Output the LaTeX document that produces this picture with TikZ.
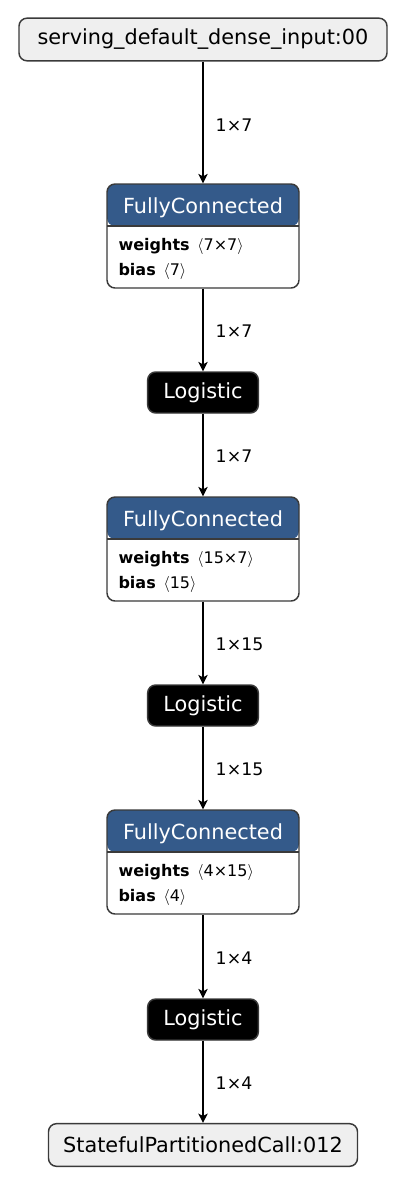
\documentclass[tikz,border=0pt]{standalone}
\usepackage{fontspec}
\setmainfont{DejaVu Sans}
\usetikzlibrary{arrows.meta}
\definecolor{fcblue}{HTML}{345A8A}
\definecolor{ioback}{HTML}{EFEFEF}
\definecolor{boxline}{HTML}{3A3A3A}
\def\lw{1.1pt}
\def\headh{31.5pt}

\begin{document}
\begin{tikzpicture}[x=0.75pt, y=0.75pt,
  io/.style={draw=boxline, line width=\lw, fill=ioback, rounded corners=6pt,
    minimum height=32pt, font=\fontsize{15.6pt}{18pt}\selectfont},
  fcbox/.style={draw=boxline, line width=\lw, fill=white, rounded corners=6pt,
    minimum width=144pt, minimum height=78pt, inner sep=0pt,
    path picture={
      \fill[fcblue] (path picture bounding box.north west) rectangle ([yshift=-\headh]path picture bounding box.north east);
      \draw[boxline, line width=\lw] ([yshift=-\headh]path picture bounding box.north west) -- ([yshift=-\headh]path picture bounding box.north east);
    }},
  fchead/.style={text=white, anchor=base, inner sep=0pt, font=\fontsize{15.6pt}{18pt}\selectfont},
  fcattr/.style={anchor=base west, inner sep=0pt, font=\fontsize{12pt}{14pt}\selectfont},
  act/.style={draw=boxline, line width=\lw, fill=black, text=white, rounded corners=6pt,
    minimum width=83pt, minimum height=30.75pt, inner sep=0pt, font=\fontsize{15.6pt}{18pt}\selectfont},
  edge/.style={line width=\lw, -{Stealth[length=7pt, width=7pt, inset=1.8pt]}},
  dim/.style={anchor=west, inner sep=0pt, xshift=9pt, pos=0.52, font=\fontsize{13pt}{15pt}\selectfont}]

  \useasboundingbox (0,0) rectangle (406,-1186);

  \node[io, minimum width=276pt] (in) at (203,-39.5) {serving\_default\_dense\_input:00};

  \node[fcbox] (fc1) at (203,-236) {};
  \node[fchead] (fc1head) at ([yshift=-22.5pt]fc1.north) {FullyConnected};
  \node[fcattr] (fc1w) at ([xshift=9pt, yshift=-50.25pt]fc1.north west) {\textbf{weights}\, $\langle$7×7$\rangle$};
  \node[fcattr] (fc1b) at ([xshift=9pt, yshift=-69pt]fc1.north west) {\textbf{bias}\, $\langle$7$\rangle$};

  \node[act] (log1) at (203,-392.5) {Logistic};

  \node[fcbox] (fc2) at (203,-549) {};
  \node[fchead] (fc2head) at ([yshift=-22.5pt]fc2.north) {FullyConnected};
  \node[fcattr] (fc2w) at ([xshift=9pt, yshift=-50.25pt]fc2.north west) {\textbf{weights}\, $\langle$15×7$\rangle$};
  \node[fcattr] (fc2b) at ([xshift=9pt, yshift=-69pt]fc2.north west) {\textbf{bias}\, $\langle$15$\rangle$};

  \node[act] (log2) at (203,-705.5) {Logistic};

  \node[fcbox] (fc3) at (203,-862) {};
  \node[fchead] (fc3head) at ([yshift=-22.5pt]fc3.north) {FullyConnected};
  \node[fcattr] (fc3w) at ([xshift=9pt, yshift=-50.25pt]fc3.north west) {\textbf{weights}\, $\langle$4×15$\rangle$};
  \node[fcattr] (fc3b) at ([xshift=9pt, yshift=-69pt]fc3.north west) {\textbf{bias}\, $\langle$4$\rangle$};

  \node[act] (log3) at (203,-1019.5) {Logistic};

  \node[io, minimum width=231.75pt] (out) at (203,-1145) {StatefulPartitionedCall:012};

  \draw[edge] (in) -- node[dim] {1×7} (fc1);
  \draw[edge] (fc1) -- node[dim] {1×7} (log1);
  \draw[edge] (log1) -- node[dim] {1×7} (fc2);
  \draw[edge] (fc2) -- node[dim] {1×15} (log2);
  \draw[edge] (log2) -- node[dim] {1×15} (fc3);
  \draw[edge] (fc3) -- node[dim] {1×4} (log3);
  \draw[edge] (log3) -- node[dim] {1×4} (out);
\end{tikzpicture}
\end{document}
